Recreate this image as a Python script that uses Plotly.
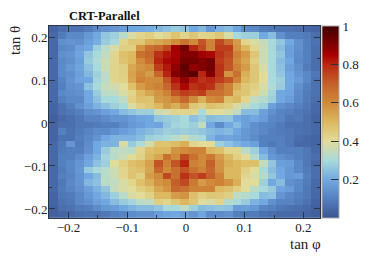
import plotly.graph_objects as go

title_text = "CRT-Parallel"
x_label = "tan φ"
y_label = "tan θ"
colorbar_ticks = [0.2, 0.4, 0.6, 0.8, 1]

# rows listed from the top of the picture (tan θ high) to the bottom
rows_top_down = [
[.04,.06,.07,.07,.09,.12,.14,.15,.17,.19,.2,.21,.23,.25,.27,.26,.2,.23,.16,.22,.24,.19,.13,.12,.09,.08,.07,.07,.06,.05,.04],
[.05,.09,.12,.12,.16,.2,.26,.28,.33,.38,.42,.44,.4,.42,.47,.42,.46,.42,.43,.46,.38,.3,.28,.28,.2,.24,.14,.1,.1,.09,.06],
[.05,.14,.15,.14,.18,.21,.27,.3,.42,.46,.46,.52,.54,.56,.6,.66,.6,.72,.62,.74,.66,.56,.42,.38,.35,.3,.26,.2,.14,.1,.07],
[.05,.12,.13,.18,.2,.28,.33,.38,.44,.44,.58,.66,.68,.74,.86,.92,.8,.74,.62,.76,.76,.58,.5,.42,.36,.3,.24,.18,.14,.1,.06],
[.05,.14,.15,.19,.26,.3,.34,.42,.48,.5,.66,.68,.78,.82,.85,.9,.9,.86,.84,.78,.74,.62,.56,.46,.36,.3,.26,.18,.13,.1,.06],
[.05,.12,.14,.18,.27,.31,.36,.42,.47,.5,.6,.66,.8,.84,.86,.92,.92,.9,.92,.76,.72,.6,.54,.44,.36,.3,.24,.2,.12,.1,.06],
[.05,.13,.16,.19,.25,.3,.36,.42,.44,.54,.58,.6,.76,.82,.88,.95,.88,.9,.92,.78,.72,.62,.56,.46,.38,.3,.25,.18,.14,.09,.06],
[.05,.13,.14,.18,.23,.28,.34,.42,.44,.55,.6,.56,.68,.8,.9,.94,.96,.8,.9,.78,.58,.66,.52,.46,.4,.3,.26,.2,.15,.12,.08],
[.05,.11,.15,.19,.2,.29,.33,.42,.43,.54,.62,.6,.6,.72,.82,.88,.82,.78,.8,.76,.72,.62,.5,.46,.4,.3,.28,.2,.17,.12,.07],
[.05,.1,.14,.15,.25,.3,.35,.37,.4,.48,.56,.6,.62,.68,.78,.84,.78,.8,.78,.68,.62,.52,.46,.44,.38,.31,.27,.2,.14,.1,.07],
[.05,.12,.13,.14,.2,.27,.33,.34,.38,.42,.5,.54,.58,.62,.72,.76,.74,.76,.66,.66,.62,.48,.46,.42,.36,.29,.2,.19,.13,.09,.07],
[.05,.1,.12,.12,.2,.25,.3,.3,.34,.44,.48,.47,.56,.58,.62,.68,.6,.52,.6,.62,.48,.5,.42,.34,.32,.28,.2,.17,.12,.09,.06],
[.04,.07,.1,.14,.18,.22,.25,.28,.3,.38,.44,.46,.5,.56,.52,.58,.46,.44,.48,.46,.44,.38,.34,.3,.28,.18,.14,.12,.1,.08,.05],
[.04,.07,.08,.1,.14,.15,.18,.2,.24,.26,.28,.28,.36,.38,.42,.42,.42,.3,.4,.4,.38,.34,.24,.24,.18,.14,.11,.1,.08,.07,.05],
[.03,.05,.06,.08,.11,.11,.13,.15,.15,.17,.19,.2,.26,.27,.28,.3,.25,.28,.24,.25,.26,.2,.18,.2,.17,.12,.11,.08,.09,.06,.04],
[.04,.06,.06,.08,.08,.09,.1,.1,.13,.16,.17,.2,.19,.26,.29,.3,.28,.34,.2,.13,.2,.24,.18,.14,.12,.11,.09,.07,.07,.06,.05],
[.04,.1,.07,.09,.11,.13,.13,.15,.17,.19,.22,.24,.26,.28,.27,.28,.27,.26,.24,.22,.24,.2,.16,.14,.12,.1,.09,.08,.07,.06,.05],
[.04,.07,.07,.1,.12,.15,.2,.22,.22,.22,.24,.28,.29,.3,.33,.36,.32,.3,.22,.18,.19,.18,.16,.13,.1,.1,.1,.08,.06,.05,.04],
[.05,.08,.15,.09,.13,.2,.22,.22,.38,.27,.31,.37,.47,.47,.49,.52,.42,.4,.4,.28,.25,.22,.2,.18,.1,.08,.1,.08,.05,.05,.04],
[.05,.09,.1,.1,.14,.2,.27,.33,.34,.33,.42,.48,.5,.5,.58,.6,.62,.62,.5,.48,.42,.42,.33,.28,.2,.14,.1,.1,.1,.08,.05],
[.05,.1,.1,.13,.18,.22,.29,.33,.36,.4,.43,.5,.54,.66,.6,.74,.66,.6,.64,.56,.5,.44,.4,.32,.24,.16,.14,.12,.1,.08,.06],
[.05,.1,.12,.15,.2,.25,.28,.4,.44,.48,.5,.55,.72,.62,.72,.8,.62,.6,.7,.58,.52,.5,.48,.48,.34,.26,.18,.17,.12,.08,.05],
[.05,.09,.12,.16,.27,.3,.33,.36,.42,.46,.48,.54,.68,.6,.66,.72,.66,.62,.68,.58,.5,.5,.44,.4,.3,.24,.2,.16,.12,.09,.06],
[.05,.1,.11,.15,.2,.24,.33,.36,.42,.47,.44,.56,.6,.74,.66,.78,.72,.76,.7,.62,.5,.5,.42,.38,.32,.26,.2,.16,.17,.1,.06],
[.05,.08,.12,.15,.23,.25,.33,.34,.38,.42,.48,.52,.58,.6,.7,.74,.64,.56,.6,.62,.58,.52,.4,.4,.28,.2,.24,.14,.12,.09,.05],
[.05,.09,.11,.14,.18,.22,.26,.35,.38,.4,.44,.47,.54,.58,.68,.66,.62,.62,.62,.5,.48,.44,.4,.33,.3,.27,.19,.17,.12,.08,.05],
[.04,.08,.09,.12,.16,.2,.23,.28,.33,.38,.4,.43,.5,.5,.56,.58,.48,.44,.46,.46,.44,.34,.32,.3,.24,.25,.15,.12,.1,.08,.05],
[.04,.07,.08,.12,.14,.18,.2,.24,.27,.29,.33,.34,.44,.42,.46,.5,.46,.4,.38,.42,.32,.3,.27,.22,.2,.14,.11,.11,.09,.07,.04],
[.03,.06,.07,.09,.1,.13,.16,.17,.2,.22,.24,.24,.26,.3,.3,.34,.28,.24,.25,.26,.25,.17,.18,.16,.11,.1,.08,.07,.06,.05,.03],
[.03,.04,.05,.06,.07,.07,.08,.1,.11,.13,.14,.14,.17,.19,.2,.18,.15,.19,.13,.13,.14,.1,.09,.09,.07,.06,.05,.05,.05,.04,.03],
]

colorscale = [
    [0.0, "#3b5290"], [0.1, "#5580bf"], [0.2, "#72a8e2"], [0.3, "#a9dadb"],
    [0.4, "#e2dc9a"], [0.5, "#dcb860"], [0.6, "#cf8a3a"], [0.7, "#c4602a"],
    [0.8, "#b82612"], [0.85, "#a80000"], [0.9, "#820000"], [1.0, "#400000"],
]

FONT = "Liberation Serif"
INK = "#2b3440"
BIN = 0.0149
X_RANGE = [-0.2333, 0.2283]
Y_RANGE = [-0.221, 0.2256]

fig = go.Figure(go.Heatmap(
    z=rows_top_down[::-1],
    x0=X_RANGE[0] + BIN / 2, dx=BIN,
    y0=Y_RANGE[0] + BIN / 2, dy=BIN,
    zmin=0, zmax=1, colorscale=colorscale,
    colorbar=dict(
        x=(322 - 49) / 271, xanchor="left", xpad=0, y=0, yanchor="bottom", ypad=0,
        lenmode="fraction", len=1, thickness=17, thicknessmode="pixels",
        tickmode="array", tickvals=colorbar_ticks, ticktext=[str(v) for v in colorbar_ticks],
        ticks="inside", ticklen=8, tickcolor=INK, tickwidth=1,
        outlinecolor="#aaaaaa", outlinewidth=1, borderwidth=0,
        tickfont=dict(family=FONT, size=13, color="#222222"),
    ),
))

axis = dict(
    dtick=0.1, tick0=0, ticks="inside", ticklen=6, tickcolor=INK, tickwidth=1,
    showline=True, linecolor=INK, linewidth=1, mirror="ticks",
    showgrid=False, zeroline=False,
    minor=dict(dtick=0.05, tick0=0, ticks="inside", ticklen=3, tickcolor=INK, tickwidth=1, showgrid=False),
    tickfont=dict(family=FONT, size=13, color="#222222"),
)

fig.update_layout(
    width=381, height=260,
    margin=dict(l=49, r=61, t=26, b=42),
    paper_bgcolor="white", plot_bgcolor="white",
    xaxis=dict(axis, range=X_RANGE, ticklabelstandoff=-3),
    yaxis=dict(axis, range=Y_RANGE, ticklabelstandoff=-2),
    annotations=[
        dict(text=f"<b>{title_text}</b>", xref="paper", yref="paper", x=(69 - 49 - 2) / 271, y=1.005,
             xanchor="left", yanchor="bottom", showarrow=False,
             font=dict(family=FONT, size=12.5, color="#111111")),
        dict(text=x_label, xref="paper", yref="paper", x=1.01, y=-16 / 192,
             xanchor="right", yanchor="top", showarrow=False,
             font=dict(family=FONT, size=15, color="#222222")),
        dict(text=y_label, xref="paper", yref="paper", x=(15 - 49) / 271, y=1 - 15 / 192,
             xanchor="center", yanchor="middle", textangle=-90, showarrow=False,
             font=dict(family=FONT, size=15, color="#222222")),
    ],
)

fig.write_html("out.html", post_script="document.body.style.margin='0';",
               config={"displayModeBar": False})
